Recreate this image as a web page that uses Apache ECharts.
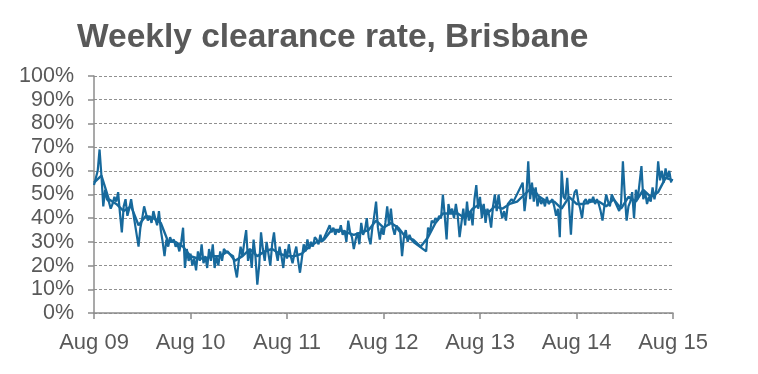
<!DOCTYPE html>
<html>
<head>
<meta charset="utf-8">
<script src="https://cdn.jsdelivr.net/npm/echarts@6/dist/echarts.min.js"></script>
<style>
html,body{margin:0;padding:0;background:#fff;}
#chart{width:758px;height:374px;}
</style>
</head>
<body>
<div id="chart"></div>
<script>
// Weekly clearance rate (%), one value per week from Aug 2009; null = no auctions (Christmas break)
var weeklyClearance = [
  54,57,60,69,58,45,52,48,47,44,46,49,47,51,42,34,45,48,41,44,48,null,null,null,28,36,40,45,42,39,
  41,38,43,40,37,43,35,30,24,31,28,32,30,31,28,29,26,30,36,19,27,22,
  25,20,23,18,26,22,29,21,24,19,27,22,29,19,24,20,26,22,27,26,null,null,null,24,19,15,22,28,
  24,30,35,22,27,19,31,24,12,20,34,27,22,30,25,20,29,34,26,22,28,24,19,27,
  23,29,24,21,25,28,22,17,23,29,26,31,27,30,28,32,31,29,33,30,null,null,null,37,34,36,33,35,
  34,37,33,35,30,39,34,32,27,31,34,29,38,33,35,40,32,29,36,41,47,36,31,36,33,
  38,45,37,44,36,33,37,35,34,24,32,35,30,33,31,30,null,null,null,null,null,null,26,36,34,39,
  38,40,39,41,40,50,41,31,46,42,44,40,46,41,32,38,44,37,47,39,43,37,48,54,44,49,
  40,46,38,44,41,36,45,50,43,50,44,40,43,39,46,47,48,47,null,null,null,null,55,43,50,64,
  48,55,47,53,45,49,46,48,45,49,46,47,48,45,41,44,32,60,49,48,57,45,33,47,51,
  52,47,44,40,47,48,46,48,47,49,46,48,46,43,39,45,50,47,45,50,null,null,null,43,46,64,
  50,39,45,47,51,40,52,48,55,62,48,51,46,49,47,53,48,52,64,56,60,55,61,57,60,55
];

// Smoothed (4-week average) clearance rate (%), one value every 4 weeks from Aug 2009
var trendClearance = [
  55,58,48,46,43,45,37,41,40,38,30,30,28,24,23,23,24,24,26,22,
  24,27,24,26,27,25,24,24,25,28,30,31,35,35,34,33,34,35,39,36,
  38,36,32,31,28,32,38,42,42,42,40,44,46,42,45,44,46,47,50,53,
  49,47,47,44,49,46,46,47,47,45,48,44,49,47,52,49,51,57,56
];
var trendStepWeeks = 4;

var xTickLabels = ['Aug 09','Aug 10','Aug 11','Aug 12','Aug 13','Aug 14','Aug 15'];
var weeksPerYear = 52;
var yTicks = [0,10,20,30,40,50,60,70,80,90,100];

var lineColor = '#17699c';
var textColor = '#595959';
var axisColor = '#8c8c8c';

var weeklyData = weeklyClearance.map(function(v,i){ return [i, v]; });
var trendData = trendClearance.map(function(v,k){ return [k*trendStepWeeks, v]; });

var chart = echarts.init(document.getElementById('chart'), null, {renderer:'canvas'});
chart.setOption({
  animation:false,
  backgroundColor:'#ffffff',
  title:{
    text:'Weekly clearance rate, Brisbane',
    left:72, top:16,
    textStyle:{fontFamily:'Liberation Sans, Arial, sans-serif', fontWeight:'bold', fontSize:33.5, color:textColor}
  },
  grid:{left:94, right:85, top:76, bottom:61, containLabel:false},
  xAxis:{
    type:'value',
    min:0, max:weeksPerYear*(xTickLabels.length-1), interval:weeksPerYear,
    axisLine:{show:true, lineStyle:{color:axisColor, width:1.5}},
    axisTick:{show:true, inside:false, length:6, lineStyle:{color:axisColor, width:1.5}},
    splitLine:{show:false},
    axisLabel:{
      margin:19,
      fontFamily:'Liberation Sans, Arial, sans-serif', fontSize:22, color:textColor,
      formatter:function(v){ return xTickLabels[Math.round(v/weeksPerYear)] || ''; }
    }
  },
  yAxis:{
    type:'value',
    min:yTicks[0], max:yTicks[yTicks.length-1], interval:yTicks[1]-yTicks[0],
    axisLine:{show:true, lineStyle:{color:axisColor, width:1.5}},
    axisTick:{show:true, inside:false, length:6, lineStyle:{color:axisColor, width:1.5}},
    splitLine:{show:true, lineStyle:{color:'#909090', type:[3,2], width:1}},
    axisLabel:{
      margin:20,
      fontFamily:'Liberation Sans, Arial, sans-serif', fontSize:21.5, color:textColor,
      formatter:function(v){ return v + '%'; }
    }
  },
  series:[
    {
      name:'Weekly', type:'line', data:weeklyData, showSymbol:false, connectNulls:true,
      lineStyle:{color:lineColor, width:2.2}, itemStyle:{color:lineColor}, z:3
    },
    {
      name:'4-week average', type:'line', data:trendData, showSymbol:false, connectNulls:true,
      lineStyle:{color:lineColor, width:2.4}, itemStyle:{color:lineColor}, z:4
    }
  ]
});
</script>
</body>
</html>
